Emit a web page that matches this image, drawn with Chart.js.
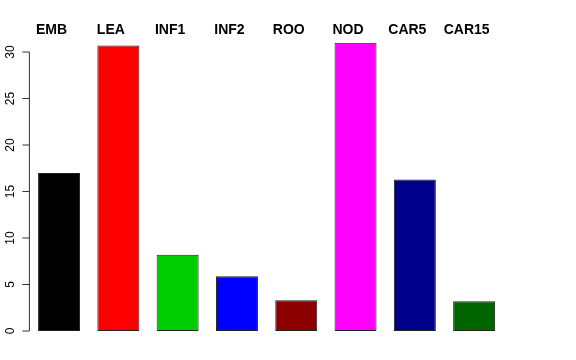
<!DOCTYPE html>
<html>
<head>
<meta charset="utf-8">
<script src="https://cdn.jsdelivr.net/npm/chart.js@4"></script>
<style>
  html, body { margin: 0; padding: 0; background: #fff; }
  #wrap { width: 576px; height: 360px; }
</style>
</head>
<body>
<div id="wrap"><canvas id="chart" width="576" height="360"></canvas></div>
<script>
// dados
const categorias = ['EMB', 'LEA', 'INF1', 'INF2', 'ROO', 'NOD', 'CAR5', 'CAR15'];
const valores = [17.0, 30.7, 8.2, 5.9, 3.3, 31.0, 16.3, 3.2];
const cores = ['#000000', '#FF0000', '#00CD00', '#0000FF', '#8B0000', '#FF00FF', '#00008B', '#006400'];
const ticksY = [0, 5, 10, 15, 20, 25, 30];

// eixo Y estilo R + rótulos em cima das barras
const eixoR = {
    id: 'eixoR',
    afterDraw(chart) {
        const ctx = chart.ctx;
        const y = chart.scales.y;
        const x = chart.scales.x;
        const xEixo = chart.chartArea.left;
        ctx.save();
        ctx.strokeStyle = '#333';
        ctx.lineWidth = 1;
        ctx.beginPath();
        ctx.moveTo(xEixo, y.getPixelForValue(ticksY[0]));
        ctx.lineTo(xEixo, y.getPixelForValue(ticksY[ticksY.length - 1]));
        ticksY.forEach(t => {
            const py = y.getPixelForValue(t);
            ctx.moveTo(xEixo, py);
            ctx.lineTo(xEixo - 7, py);
        });
        ctx.stroke();

        ctx.fillStyle = '#000';
        ctx.font = '12px "Liberation Sans", Arial, sans-serif';
        ctx.textAlign = 'center';
        ctx.textBaseline = 'middle';
        ticksY.forEach(t => {
            const py = y.getPixelForValue(t);
            ctx.save();
            ctx.translate(11, py);
            ctx.rotate(-Math.PI / 2);
            ctx.fillText(String(t), 0, 0);
            ctx.restore();
        });

        ctx.font = 'bold 14px "Liberation Sans", Arial, sans-serif';
        ctx.textBaseline = 'alphabetic';
        categorias.forEach((c, i) => {
            ctx.fillText(c, x.getPixelForValue(i) - 7.5, 34);
        });
        ctx.restore();
    }
};

new Chart(document.getElementById('chart'), {
    type: 'bar',
    data: {
        labels: categorias,
        datasets: [{
            data: valores,
            backgroundColor: cores,
            borderColor: '#222',
            borderWidth: 1,
            borderSkipped: false,
            categoryPercentage: 1,
            barPercentage: 0.708
        }]
    },
    options: {
        responsive: false,
        animation: false,
        layout: { padding: { left: 29.4, right: 72.2, top: 42.7, bottom: 29 } },
        plugins: { legend: { display: false }, tooltip: { enabled: false } },
        scales: {
            x: { display: false },
            y: { display: false, min: 0, max: 31 }
        }
    },
    plugins: [eixoR]
});
</script>
</body>
</html>
